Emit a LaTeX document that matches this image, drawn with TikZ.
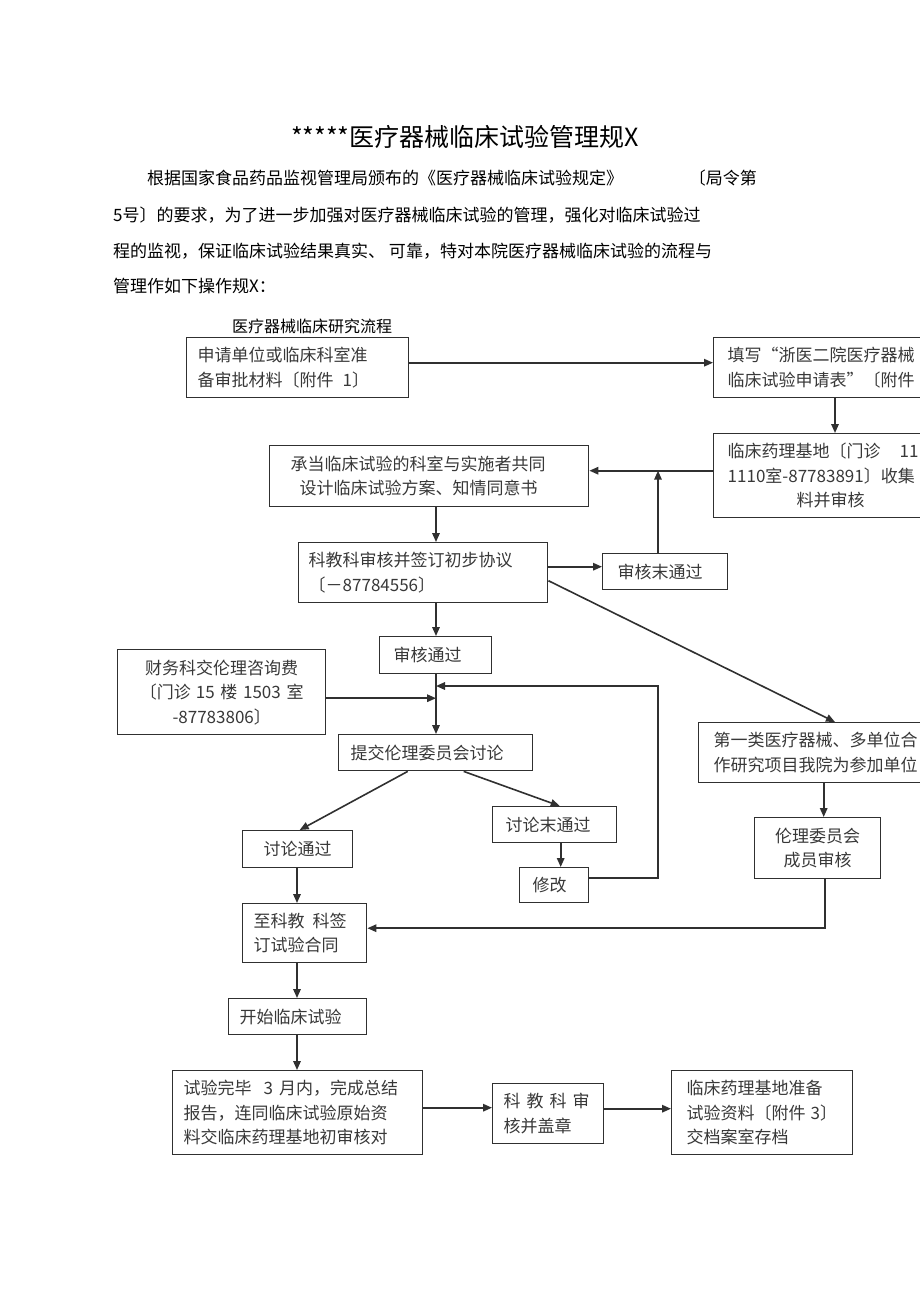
\documentclass[tikz,border=0pt]{standalone}
\usepackage{fontspec}
\setmainfont{Noto Sans CJK SC}
\usetikzlibrary{arrows.meta}
\definecolor{linec}{HTML}{303030}
\definecolor{txtc}{HTML}{383838}
\begin{document}
\begin{tikzpicture}[x=1pt,y=-1pt,
  box/.style={draw=linec, line width=1.4pt, rectangle, inner ysep=0pt, font=\fontsize{17}{24.5}\selectfont, text=txtc, anchor=north west},
  plain/.style={inner sep=0pt, font=\fontsize{17}{20}\selectfont, text=black},
  arr/.style={draw=linec, line width=1.6pt, -{Triangle[length=9pt,width=7.5pt]}},
  ln/.style={draw=linec, line width=1.6pt}]
\useasboundingbox (0,0) rectangle (920,1304);
\clip (0,0) rectangle (920,1304);

% heading and paragraph
\node[plain, font=\fontsize{25}{28}\selectfont] (title) at (465,137) {*****医疗器械临床试验管理规X};
\node[plain, anchor=west] (p1) at (147,178) {根据国家食品药品监视管理局颁布的《医疗器械临床试验规定》};
\node[plain, anchor=east] (p1b) at (757,178) {〔局令第};
\node[plain, anchor=west] (p2) at (113,215) {5号〕的要求，为了进一步加强对医疗器械临床试验的管理，强化对临床试验过};
\node[plain, anchor=west] (p3) at (113,251) {程的监视，保证临床试验结果真实、 可靠，特对本院医疗器械临床试验的流程与};
\node[plain, anchor=west] (p4) at (113,286) {管理作如下操作规X：};
\node[plain, anchor=west, font=\fontsize{16}{18}\selectfont] (flow) at (232,326) {医疗器械临床研究流程};

% helper x positions
\coordinate (spine) at (436,0);
\coordinate (fx) at (658,0);
\coordinate (mx) at (835,0);
\coordinate (s2) at (297,0);
\coordinate (ret) at (658,686);

% boxes
\node[box, minimum width=222, minimum height=60, inner xsep=11, text width=200, align=left] (A) at (186,337)
  {申请单位或临床科室准\\备审批材料〔附件\hspace*{9pt}1〕};
\node[box, minimum width=250, minimum height=60, inner xsep=14, text width=222, align=left] (B) at (713,337)
  {填写“浙医二院医疗器械\\临床试验申请表”〔附件};
\node[box, minimum width=234, minimum height=84, inner xsep=14, text width=206, align=center] (C) at (713,433)
  {\makebox[206pt][l]{临床药理基地〔门诊\hspace*{19pt}11}\\\makebox[206pt][l]{1110室-87783891〕收集}\\料并审核};
\node[box, minimum width=319, minimum height=61, inner xsep=21, text width=277, align=left] (D) at (269,445)
  {承当临床试验的科室与实施者共同\\\hspace*{9pt}设计临床试验方案、知情同意书};
\node[box, minimum width=249, minimum height=60, inner xsep=10, text width=229, align=left] (E) at (298,542)
  {科教科审核并签订初步协议\\〔－87784556〕};
\node[box, minimum width=125, minimum height=36, inner xsep=15, text width=95, align=left] (F) at (602,553)
  {审核末通过};
\node[box, minimum width=112, minimum height=37, inner xsep=14, text width=84, align=left] (G) at (379,636)
  {审核通过};
\node[box, minimum width=208, minimum height=85, inner xsep=10, text width=188, align=center] (H) at (117,649)
  {财务科交伦理咨询费\\〔门诊\hspace*{5pt}15 楼 1503 室\\-87783806〕};
\node[box, minimum width=194, minimum height=36, inner xsep=12, text width=170, align=left] (I) at (338,734)
  {提交伦理委员会讨论};
\node[box, minimum width=110, minimum height=37, inner xsep=10, text width=90, align=center] (J) at (242,830)
  {讨论通过};
\node[box, minimum width=124, minimum height=36, inner xsep=13, text width=98, align=left] (K) at (492,806)
  {讨论末通过};
\node[box, minimum width=69, minimum height=35, inner xsep=13, text width=43, align=left] (L) at (519,867)
  {修改};
\node[box, minimum width=250, minimum height=60, inner xsep=15, text width=220, align=left] (M) at (698,722)
  {第一类医疗器械、多单位合\\作研究项目我院为参加单位};
\node[box, minimum width=126, minimum height=61, inner xsep=10, text width=106, align=center] (N) at (754,817)
  {伦理委员会\\成员审核};
\node[box, minimum width=124, minimum height=59, inner xsep=11, text width=102, align=left] (O) at (242,903)
  {至科教\hspace{8pt}科签\\订试验合同};
\node[box, minimum width=138, minimum height=36, inner xsep=11, text width=116, align=left] (P) at (228,998)
  {开始临床试验};
\node[box, minimum width=250, minimum height=84, inner xsep=11, text width=228, align=left] (Q) at (172,1070)
  {试验完毕\hspace{12pt}3\hspace{6pt}月内，完成总结\\报告，连同临床试验原始资\\料交临床药理基地初审核对};
\node[box, minimum width=111, minimum height=60, inner xsep=11, text width=89, align=left] (R) at (492,1083)
  {科\hspace{6pt}教\hspace{6pt}科\hspace{6pt}审\\核并盖章};
\node[box, minimum width=181, minimum height=84, inner xsep=12, text width=157, align=left] (S) at (671,1070)
  {\hspace*{3pt}临床药理基地准备\\\hspace*{3pt}试验资料〔附件\hspace{5pt}3〕\\\hspace*{3pt}交档案室存档};

\coordinate (cd) at ([yshift=5pt]C.west);

% connectors
\draw[arr] ([yshift=5pt]A.east) -- ([yshift=5pt]B.west);
\draw[arr] (B.south -| mx) -- (C.north -| mx);
\draw[arr] (cd) -- (cd -| D.east);
\draw[arr] (F.north -| fx) -- (fx |- cd);
\draw[arr] (D.south -| spine) -- (E.north -| spine);
\draw[arr] ([yshift=5pt]F.west -| E.east) -- ([yshift=5pt]F.west);
\draw[arr] ([yshift=-8pt]E.east) -- (M.north -| mx);
\draw[arr] (E.south -| spine) -- (G.north -| spine);
\draw[arr] (G.south -| spine) -- (I.north -| spine);
\draw[arr] ([yshift=-6pt]H.east) -- ([yshift=-6pt]H.east -| spine);
\draw[arr] ([yshift=7pt]L.east) -| (ret) -- (ret -| spine);
\draw[arr] ([xshift=-28pt]I.south) -- ([xshift=2pt]J.north);
\draw[arr] ([xshift=28pt]I.south) -- ([xshift=5pt]K.north);
\draw[arr] ([xshift=6pt]K.south) -- ([xshift=6pt]K.south |- L.north);
\draw[arr] (M.south) -- (M.south |- N.north);
\draw[arr] ([xshift=7pt]N.south) |- ([yshift=5pt]O.east);
\draw[arr] (J.south -| s2) -- (O.north -| s2);
\draw[arr] (O.south -| s2) -- (P.north -| s2);
\draw[arr] (P.south -| s2) -- (Q.north -| s2);
\draw[arr] ([yshift=5pt]Q.east) -- ([yshift=5pt]Q.east -| R.west);
\draw[arr] ([yshift=5pt]R.east) -- ([yshift=5pt]R.east -| S.west);
\end{tikzpicture}
\end{document}
